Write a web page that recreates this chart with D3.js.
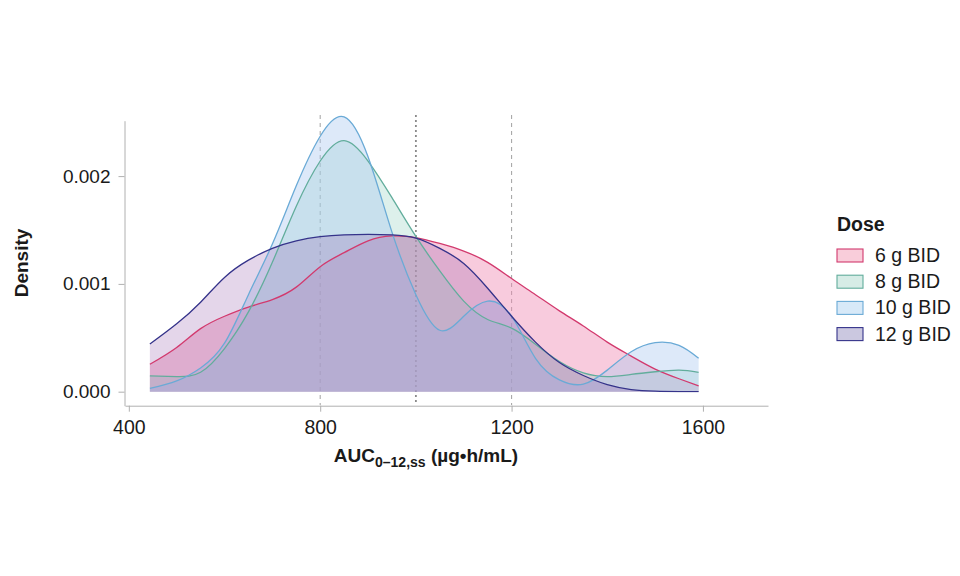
<!DOCTYPE html>
<html><head><meta charset="utf-8">
<script src="https://cdn.jsdelivr.net/npm/d3@7/dist/d3.min.js"></script>
<style>
html,body{margin:0;padding:0;background:#fff;}
text{font-family:"Liberation Sans",Arial,Helvetica,sans-serif;fill:#1a1a1a;}
</style></head>
<body>
<svg id="chart" width="960" height="576"></svg>
<script>
// AUC grid (µg·h/mL) at which densities were read
const auc = [444,500,550,600,650,700,750,800,850,900,950,1000,1050,1100,1150,1200,1250,1300,1350,1400,1450,1500,1550,1591];
const dose6  = [0.000254,0.00041,0.000585,0.00070,0.000785,0.000855,0.00097,0.00116,0.00129,0.00140,0.001445,0.00143,0.001375,0.001305,0.00120,0.00105,0.00090,0.00075,0.00061,0.00046,0.00033,0.00021,0.00012,0.000053];
const dose8  = [0.000146,0.00014,0.00018,0.00040,0.00074,0.00120,0.00172,0.00214,0.00233,0.00214,0.00180,0.00144,0.00112,0.00084,0.00067,0.00059,0.00044,0.00028,0.000175,0.00014,0.00016,0.000185,0.00020,0.00018];
const dose10 = [0.00003,0.00010,0.00022,0.00045,0.00090,0.00137,0.00191,0.00237,0.00255,0.00218,0.00148,0.00090,0.00057,0.00070,0.00084,0.00070,0.00031,0.00011,0.00007,0.00020,0.00037,0.000455,0.00043,0.00031];
const dose12 = [0.000442,0.00063,0.00083,0.00106,0.00122,0.00133,0.00140,0.001438,0.001455,0.00146,0.001455,0.001425,0.00133,0.00119,0.00096,0.00070,0.00046,0.00027,0.00015,0.000065,0.00002,0.000005,0.000001,0];
const seriesNames = ["6 g BID","8 g BID","10 g BID","12 g BID"];
const seriesValues = [dose6, dose8, dose10, dose12];
const lineColors = ["#d23a6e","#62ad9c","#6aaad6","#35338a"];
const fillColors = ["#f08cb4","#9dd3c6","#aac8f0","#8246a0"];
const fillOpacity = [0.45,0.35,0.4,0.22];
const legendFill = ["#f9cdda","#d6ece6","#d7e9f8","#cbc8e0"];
const refLines = [800,1000,1200];
const refDash = ["4,4","2,3","4,4"];
const xTicks = [400,800,1200,1600];
const yTicks = [0,0.001,0.002];
const yTickLabels = ["0.000","0.001","0.002"];

const svg = d3.select("#chart");
const x = d3.scaleLinear().domain([392,1736]).range([125,768]);
const y = d3.scaleLinear().domain([-0.00013,0.002514]).range([405.7,120.7]);

// reference lines
svg.selectAll("line.ref").data(refLines).enter().append("line")
  .attr("x1",d=>x(d)).attr("x2",d=>x(d))
  .attr("y1",115).attr("y2",405)
  .attr("stroke",(d,i)=> i===1 ? "#8a8a8a" : "#aaaaaa")
  .attr("stroke-width",(d,i)=> i===1 ? 1.8 : 1.1)
  .attr("stroke-dasharray",(d,i)=>refDash[i]);

const curve = d3.curveNatural;
const area = d3.area().x((d,i)=>x(auc[i])).y0(y(0)).y1(d=>y(d)).curve(curve);
const line = d3.line().x((d,i)=>x(auc[i])).y(d=>y(d)).curve(curve);

// clip so spline overshoot never dips below baseline
svg.append("clipPath").attr("id","clipBase").append("rect")
  .attr("x",0).attr("y",0).attr("width",960).attr("height",y(0)+0.7);

const g = svg.append("g").attr("clip-path","url(#clipBase)");
seriesValues.forEach((vals,k)=>{
  g.append("path").datum(vals).attr("d",area)
    .attr("fill",fillColors[k]).attr("fill-opacity",fillOpacity[k]).attr("stroke","none");
});
seriesValues.forEach((vals,k)=>{
  g.append("path").datum(vals).attr("d",line)
    .attr("fill","none").attr("stroke",lineColors[k]).attr("stroke-width",1.3);
});

// axes
const xAxis = d3.axisBottom(x).tickValues(xTicks).tickFormat(d3.format("d")).tickSize(6).tickPadding(8).tickSizeOuter(0);
const gx = svg.append("g").attr("transform","translate(0,405.7)").call(xAxis);
gx.select(".domain").attr("stroke","#b0b0b0");
gx.selectAll(".tick line").attr("stroke","#b0b0b0");
gx.selectAll(".tick text").style("font-size","19.5px").attr("fill","#1a1a1a").attr("dy","0.72em");

const yAxis = d3.axisLeft(y).tickValues(yTicks).tickFormat((d,i)=>yTickLabels[i]).tickSize(6).tickPadding(8).tickSizeOuter(0);
const gy = svg.append("g").attr("transform","translate(124.5,0)").call(yAxis);
gy.select(".domain").attr("stroke","#b0b0b0");
gy.selectAll(".tick line").attr("stroke","#b0b0b0");
gy.selectAll(".tick text").style("font-size","19px").attr("fill","#1a1a1a");

// axis titles
svg.append("text").attr("transform","translate(28,263) rotate(-90)")
  .attr("text-anchor","middle").style("font-size","19px").style("font-weight","bold").text("Density");

const xt = svg.append("text").attr("x",426).attr("y",462).attr("text-anchor","middle")
  .style("font-size","19px").style("font-weight","bold");
xt.append("tspan").text("AUC");
xt.append("tspan").attr("dy",5).style("font-size","14px").text("0–12,ss");
xt.append("tspan").attr("dy",-5).text(" (µg•h/mL)");

// legend
const lg = svg.append("g");
lg.append("text").attr("x",837).attr("y",231).style("font-size","19.5px").style("font-weight","bold").text("Dose");
seriesNames.forEach((n,k)=>{
  const yy = 255 + k*26.2;
  lg.append("rect").attr("x",837).attr("y",yy-6).attr("width",26).attr("height",13)
    .attr("fill",legendFill[k]).attr("stroke",lineColors[k]).attr("stroke-width",1.1);
  lg.append("text").attr("x",875).attr("y",yy+7).style("font-size","19.5px").text(n);
});
</script>
</body></html>
